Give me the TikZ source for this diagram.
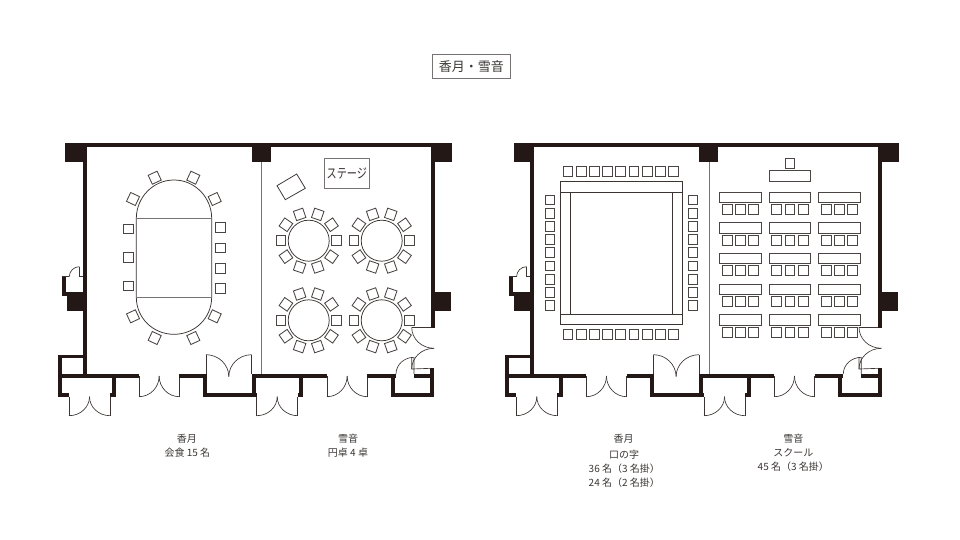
\documentclass[tikz,border=0pt]{standalone}
\usepackage{fontspec}
\setmainfont{Noto Sans CJK JP}
\definecolor{wallc}{HTML}{231815}
\definecolor{linec}{HTML}{3A3432}
\definecolor{chairc}{HTML}{4A4543}
\definecolor{grayc}{HTML}{777372}
\definecolor{textc}{HTML}{3A3634}
\tikzset{
  wallfill/.style={fill=wallc,draw=none},
  doorline/.style={draw=linec,line width=0.65pt},
  partline/.style={draw=grayc,line width=0.8pt},
  furn/.style={draw=linec,line width=0.75pt},
  seat/.style={draw=chairc,line width=0.85pt,fill=white},
  captext/.style={text=textc,font=\fontsize{10pt}{12pt}\selectfont,inner sep=0pt,anchor=center},
  framebox/.style={draw=grayc,line width=0.8pt,inner sep=0pt,anchor=center},
}
\newcommand\wallr[4]{\fill[wallfill] (#1,#2) rectangle (#3,#4);}
% A, B, centre of a quarter arc
\newcommand\qarc[6]{\draw[doorline] (#1,#2) .. controls ({#1+0.5523*(#3-#5)},{#2+0.5523*(#4-#6)}) and ({#3+0.5523*(#1-#5)},{#4+0.5523*(#2-#6)}) .. (#3,#4);}
% chair: x, y, canvas angle
\newcommand\chairat[3]{\begin{scope}[shift={(#1,#2)},rotate=#3]\draw[seat] (-4.9,-4.9) rectangle (4.9,4.9);\end{scope}}
\newcommand\doublebottom[4]{% x1, x2, y hinge, y end
  \draw[doorline] (#1,#3) -- (#1,#4) (#2,#3) -- (#2,#4);
  \pgfmathsetmacro\midx{(#1+#2)/2}
  \qarc{#1}{#4}{\midx}{#3}{#1}{#3}
  \qarc{#2}{#4}{\midx}{#3}{#2}{#3}
}
\newcommand\shell[1]{%
  \wallr{#1}{143.5}{452}{147.5}
  \wallr{#1}{143.5}{87}{162}
  \wallr{252}{143.5}{271}{162}
  \wallr{431}{143.5}{452}{162}
  \wallr{83}{162}{87}{378}
  \wallr{430.7}{162}{434.7}{328.3}
  \wallr{431.7}{292}{451}{310.7}
  \wallr{66.7}{292}{87}{310.7}
  % left small door
  \wallr{61.7}{276.7}{65.7}{296}
  \wallr{61.7}{292}{70}{296}
  \draw[doorline] (61.7,276.7) -- (69.3,276.7) (79.3,266.7) -- (79.3,276.7) -- (83,276.7);
  \qarc{79.3}{266.7}{69.3}{276.7}{79.3}{276.7}
  % partition
  \draw[partline] (261.7,162) -- (261.7,374);
  % lower-left closet
  \wallr{58}{354.7}{85}{358.3}
  \wallr{58}{354.7}{61.7}{396.7}
  \wallr{58}{393}{69}{396.7}
  \wallr{58}{374}{139}{377.7}
  \wallr{112}{374}{115.7}{396.7}
  \wallr{110}{393}{115.7}{396.7}
  \doublebottom{69}{110}{396.7}{415.7}
  % door 2
  \doublebottom{139}{179.3}{376}{396.7}
  \wallr{179.3}{374}{206.7}{377.7}
  % alcove
  \wallr{202.7}{374}{206.7}{396.7}
  \wallr{202.7}{393}{256}{396.7}
  \wallr{251.7}{374}{256}{396.7}
  \draw[doorline] (206,354.7) -- (206,374) (251.7,354.7) -- (251.7,374);
  \qarc{206}{354.7}{228.8}{376.7}{206}{376.7}
  \qarc{251.7}{354.7}{228.8}{376.7}{251.7}{376.7}
  % door 3
  \wallr{251.7}{374}{327}{377.7}
  \wallr{250}{393}{256.7}{396.7}
  \wallr{299.3}{374}{303.3}{396.7}
  \wallr{297.7}{393}{303.3}{396.7}
  \doublebottom{256.7}{297.7}{396.7}{415.7}
  % door 4
  \doublebottom{327}{367.3}{376}{396.7}
  \wallr{367.3}{374}{395.7}{377.7}
  % lower-right closet
  \wallr{390.7}{374}{394.7}{396.7}
  \wallr{390.7}{393}{434.3}{396.7}
  \wallr{430.3}{368.3}{434.3}{396.7}
  \wallr{414}{374}{434.3}{378}
  \draw[doorline] (414,357.3) -- (414,374) (411.7,357.3) -- (411.7,369) -- (431,368.3);
  \qarc{396}{374}{414}{357.3}{414}{374}
  \draw[doorline] (411.7,327.3) -- (431,327.3);
  \qarc{411.7}{327.3}{434}{348.3}{434}{327.3}
  \qarc{434}{348.3}{411.7}{369}{434}{369}
}
\begin{document}
\begin{tikzpicture}[x=1pt,y=-1pt]
\useasboundingbox (0,0) rectangle (960,540);
\fill[white] (0,0) rectangle (960,540);

\node[framebox,minimum width=78pt,minimum height=24pt,text=textc,font=\fontsize{13pt}{15pt}\selectfont] (title) at (471.3,66.3) {香月・雪音};

\shell{65}
\begin{scope}[xshift=447.3pt]\shell{66.4}\end{scope}

% Left room: banquet table
\draw[furn] (136.3,218.5) .. controls (136.3,197.5) and (153,180) .. (174,180) .. controls (195,180) and (211.7,197.5) .. (211.7,218.5) -- (211.7,297) .. controls (211.7,318) and (195,334.3) .. (174,334.3) .. controls (153,334.3) and (136.3,318) .. (136.3,297) -- cycle;
\draw[furn,draw=grayc] (136.3,218.5) -- (211.7,218.5) (136.3,297) -- (211.7,297);
\foreach \py in {229,257.3,286} {\chairat{128.3}{\py}{0}}
\foreach \py in {227.7,248,268.3,288.5} {\chairat{220.7}{\py}{0}}
\chairat{133}{199}{-25}
\chairat{154.7}{177.7}{25}
\chairat{193.3}{177.7}{-25}
\chairat{214.7}{199}{25}
\chairat{133}{316.3}{25}
\chairat{154.7}{338}{-25}
\chairat{193.3}{338}{25}
\chairat{214.7}{316.3}{-25}

% Stage
\draw[furn] (296.7,174) -- (305.3,188.3) -- (285.3,199.7) -- (277,185.7) -- cycle;
\node[framebox,minimum width=45pt,minimum height=30.4pt] (stagebox) at (346.8,173.5) {};
\node[text=textc,inner sep=0pt,font=\fontsize{13.5pt}{15pt}\selectfont,xscale=0.75] (stagelabel) at (346.8,173.5) {ステージ};

% Round tables
\foreach \cx/\cy in {308.7/240.7,381.7/240.7,308.7/320.3,381.7/320.3} {
  \draw[furn] (\cx,\cy) circle [radius=20.5];
  \foreach \a in {0,35,71,109,145,180,215,251,289,325} {
    \pgfmathsetmacro\chx{\cx+27.8*cos(\a)}
    \pgfmathsetmacro\chy{\cy-27.8*sin(\a)}
    \chairat{\chx}{\chy}{\a}
  }
}

% Right plan: U-shape
\draw[furn] (560.3,181.7) rectangle (682.7,192.3);
\draw[furn] (560.3,314.3) rectangle (682.7,324.3);
\draw[furn] (560.3,192.3) rectangle (570.7,314.3);
\draw[furn] (672.3,192.3) rectangle (682.7,314.3);
\foreach \i in {0,...,8} {
  \pgfmathsetmacro\px{568+13.2*\i}
  \chairat{\px}{171.3}{0}
  \chairat{\px}{334.7}{0}
  \pgfmathsetmacro\py{200+13.2*\i}
  \chairat{550}{\py}{0}
  \chairat{693}{\py}{0}
}

% School
\chairat{790}{163.7}{0}
\draw[seat] (769.3,170.7) rectangle (810.7,181.3);
\foreach \r in {0,...,4} {
  \pgfmathsetmacro\ty{192+30.65*\r}
  \pgfmathsetmacro\cy{209.3+30.75*\r}
  \foreach \tx in {719.7,769.3,818.7} {
    \draw[seat] (\tx,\ty) rectangle ({\tx+41.3},{\ty+10.6});
    \foreach \k in {0,1,2} {
      \pgfmathsetmacro\chx{\tx+7.4+13.3*\k}
      \chairat{\chx}{\cy}{0}
    }
  }
}

% Captions
\node[captext] (capa1) at (186.8,438.3) {香月};
\node[captext] (capa2) at (187.3,452.7) {会食 15 名};
\node[captext] (capb1) at (348,438.3) {雪音};
\node[captext] (capb2) at (348,452.7) {円卓 4 卓};
\node[captext] (capc1) at (623.5,438.3) {香月};
\node[captext] (capc2) at (624,454.3) {口の字};
\node[captext] (capc3) at (624.3,468.3) {36 名（3 名掛）};
\node[captext] (capc4) at (624.3,482.3) {24 名（2 名掛）};
\node[captext] (capd1) at (793.3,438.3) {雪音};
\node[captext] (capd2) at (793.3,452.3) {スクール};
\node[captext] (capd3) at (793.3,466.3) {45 名（3 名掛）};
\end{tikzpicture}
\end{document}
